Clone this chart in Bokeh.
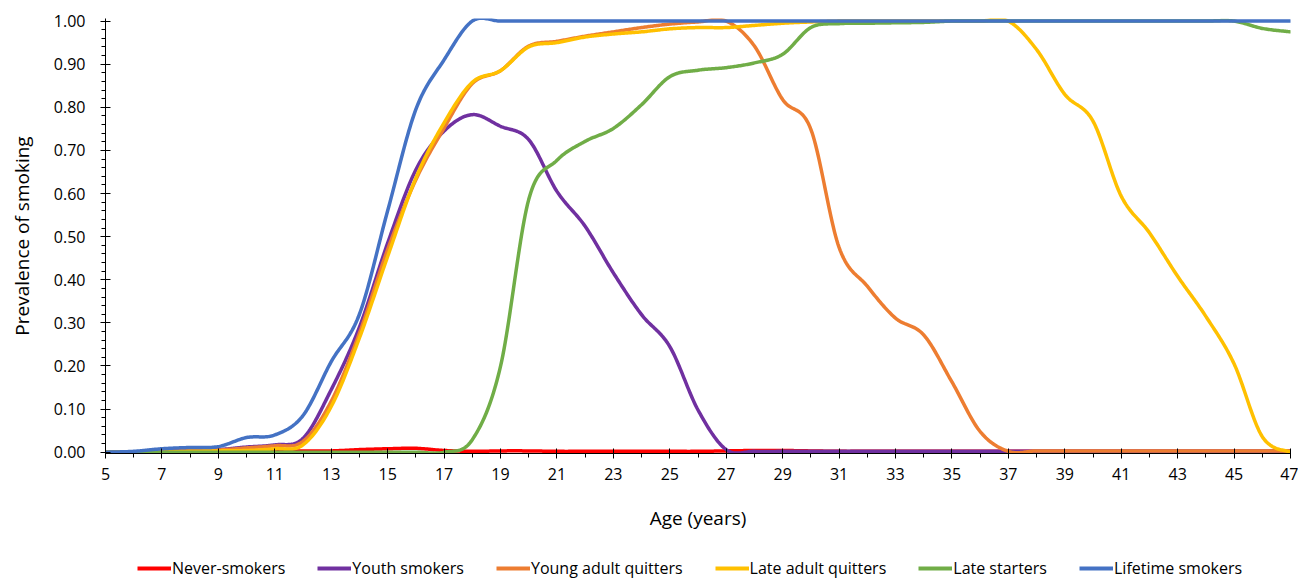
import numpy as np
from bokeh.plotting import figure
from bokeh.layouts import column
from bokeh.models import Range1d, FixedTicker, Legend, LegendItem, NumeralTickFormatter
from bokeh.embed import file_html
from bokeh.resources import INLINE

ages = list(range(5, 48))

# values read per integer age, 5 .. 47
never_smokers = [0.000, 0.000, 0.000, 0.000, 0.000, 0.001, 0.002, 0.003, 0.003, 0.006,
                 0.008, 0.009, 0.004, 0.002, 0.003, 0.003, 0.002, 0.002, 0.002, 0.002,
                 0.002, 0.002, 0.003, 0.004, 0.004, 0.003, 0.002, 0.002, 0.002, 0.002,
                 0.002, 0.002, 0.002, 0.002, 0.002, 0.002, 0.002, 0.002, 0.002, 0.002,
                 0.002, 0.002, 0.002]
youth_smokers = [0.000, 0.000, 0.003, 0.005, 0.006, 0.012, 0.017, 0.032, 0.145, 0.290,
                 0.485, 0.655, 0.745, 0.783, 0.756, 0.725, 0.605, 0.524, 0.416, 0.319,
                 0.245, 0.098, 0.006, 0.002, 0.002, 0.002, 0.002, 0.002, 0.002, 0.002,
                 0.002, 0.002, 0.002, 0.002, 0.002, 0.002, 0.002, 0.002, 0.002, 0.002,
                 0.002, 0.002, 0.002]
young_adult_quitters = [0.000, 0.000, 0.002, 0.004, 0.005, 0.010, 0.015, 0.025, 0.118, 0.276,
                        0.470, 0.632, 0.752, 0.855, 0.885, 0.942, 0.953, 0.965, 0.975, 0.985,
                        0.993, 0.998, 1.000, 0.942, 0.818, 0.749, 0.475, 0.385, 0.311, 0.272,
                        0.163, 0.048, 0.002, 0.003, 0.003, 0.003, 0.003, 0.003, 0.003, 0.003,
                        0.003, 0.003, 0.003]
late_adult_quitters = [0.000, 0.000, 0.000, 0.002, 0.003, 0.004, 0.008, 0.017, 0.106, 0.265,
                       0.454, 0.636, 0.764, 0.858, 0.885, 0.940, 0.950, 0.963, 0.970, 0.975,
                       0.982, 0.985, 0.985, 0.990, 0.995, 0.998, 1.000, 1.000, 1.000, 1.000,
                       1.000, 1.000, 1.000, 0.934, 0.830, 0.768, 0.594, 0.509, 0.408, 0.315,
                       0.205, 0.036, 0.000]
late_starters = [0.000, 0.000, 0.000, 0.000, 0.000, 0.000, 0.000, 0.000, 0.000, 0.000,
                 0.000, 0.000, 0.000, 0.029, 0.199, 0.586, 0.677, 0.721, 0.751, 0.806,
                 0.871, 0.886, 0.892, 0.903, 0.923, 0.985, 0.994, 0.995, 0.996, 0.997,
                 1.000, 1.000, 1.000, 1.000, 1.000, 1.000, 1.000, 1.000, 1.000, 1.000,
                 1.000, 0.983, 0.975]
lifetime_smokers = [0.000, 0.002, 0.008, 0.011, 0.013, 0.034, 0.040, 0.085, 0.210, 0.320,
                    0.560, 0.795, 0.910, 1.000, 1.000, 1.000, 1.000, 1.000, 1.000, 1.000,
                    1.000, 1.000, 1.000, 1.000, 1.000, 1.000, 1.000, 1.000, 1.000, 1.000,
                    1.000, 1.000, 1.000, 1.000, 1.000, 1.000, 1.000, 1.000, 1.000, 1.000,
                    1.000, 1.000, 1.000]

series_names = ["Never-smokers", "Youth smokers", "Young adult quitters",
                "Late adult quitters", "Late starters", "Lifetime smokers"]
series_values = [never_smokers, youth_smokers, young_adult_quitters,
                 late_adult_quitters, late_starters, lifetime_smokers]
series_colors = ["#FF0000", "#7030A0", "#ED7D31", "#FFC000", "#70AD47", "#4472C4"]

x_ticks = list(range(5, 48, 2))
x_minor = list(range(6, 47, 2))
y_ticks = [round(0.1 * i, 2) for i in range(11)]
y_minor = [round(0.02 * i, 2) for i in range(51)]


def smooth(xs, ys, steps=24):
    """Excel-style smoothed line: cubic Bezier segments through the data points."""
    xs = np.asarray(xs, float)
    ys = np.asarray(ys, float)
    n = len(xs)
    t = np.linspace(0.0, 1.0, steps, endpoint=False)
    outx, outy = [], []
    for i in range(n - 1):
        i0, i3 = max(i - 1, 0), min(i + 2, n - 1)
        x1, y1, x2, y2 = xs[i], ys[i], xs[i + 1], ys[i + 1]
        c1x = x1 + (x2 - xs[i0]) / 6.0
        c1y = y1 + (y2 - ys[i0]) / 6.0
        c2x = x2 - (xs[i3] - x1) / 6.0
        c2y = y2 - (ys[i3] - y1) / 6.0
        a = (1 - t) ** 3
        b = 3 * (1 - t) ** 2 * t
        c = 3 * (1 - t) * t ** 2
        d = t ** 3
        outx.extend(a * x1 + b * c1x + c * c2x + d * x2)
        outy.extend(a * y1 + b * c1y + c * c2y + d * y2)
    outx.append(xs[-1])
    outy.append(ys[-1])
    return outx, outy


FONT = "Open Sans"
W = 1298
MAIN_H = 539
LEG_H = 579 - MAIN_H

p = figure(width=W, height=MAIN_H,
           x_range=Range1d(5, 47), y_range=Range1d(-0.003, 1.006),
           output_backend="svg", toolbar_location=None,
           min_border_left=105, min_border_right=8,
           min_border_top=18, min_border_bottom=MAIN_H - 18 - 435)

p.xgrid.visible = False
p.ygrid.visible = False
p.outline_line_color = None
p.background_fill_color = "white"
p.border_fill_color = "white"

for name, vals, col in zip(series_names, series_values, series_colors):
    sx, sy = smooth(ages, vals)
    p.line(sx, sy, line_color=col, line_width=3.5, line_join="round", line_cap="round")

# x axis
xa = p.xaxis[0]
xa.ticker = FixedTicker(ticks=x_ticks, minor_ticks=x_minor)
xa.axis_label = "Age (years)"
xa.axis_line_color = "black"
xa.major_tick_line_color = "black"
xa.minor_tick_line_color = "black"
xa.major_tick_in = 5
xa.major_tick_out = 5
xa.minor_tick_in = 0
xa.minor_tick_out = 4
xa.major_label_standoff = 9
xa.major_label_text_font = FONT
xa.major_label_text_font_size = "16px"
xa.major_label_text_color = "black"
xa.axis_label_text_font = FONT
xa.axis_label_text_font_size = "19px"
xa.axis_label_text_font_style = "normal"
xa.axis_label_text_color = "black"
xa.axis_label_standoff = 22

# y axis
ya = p.yaxis[0]
ya.ticker = FixedTicker(ticks=y_ticks, minor_ticks=y_minor)
ya.formatter = NumeralTickFormatter(format="0.00")
ya.axis_label = "Prevalence of smoking"
ya.axis_line_color = "black"
ya.major_tick_line_color = "black"
ya.minor_tick_line_color = "black"
ya.major_tick_in = 5
ya.major_tick_out = 5
ya.minor_tick_in = 0
ya.minor_tick_out = 4
ya.major_label_standoff = 15
ya.major_label_text_font = FONT
ya.major_label_text_font_size = "16px"
ya.major_label_text_color = "black"
ya.axis_label_text_font = FONT
ya.axis_label_text_font_size = "19px"
ya.axis_label_text_font_style = "normal"
ya.axis_label_text_color = "black"
ya.axis_label_standoff = 16

# legend strip below the chart; its lines use the same data but lie outside the strip's view
lg = figure(width=W, height=LEG_H, x_range=Range1d(100, 101), y_range=Range1d(100, 101),
            output_backend="svg", toolbar_location=None,
            x_axis_location=None, y_axis_location=None,
            min_border_left=0, min_border_right=0, min_border_top=0, min_border_bottom=0)
lg.xgrid.visible = False
lg.ygrid.visible = False
lg.outline_line_color = None
lg.background_fill_color = "white"
lg.border_fill_color = "white"

items = []
for name, vals, col in zip(series_names, series_values, series_colors):
    r = lg.line(ages, vals, line_color=col, line_width=4)
    items.append(LegendItem(label=name, renderers=[r]))

legend = Legend(
    items=items,
    orientation="horizontal",
    location=(32, 0),
    glyph_width=34, glyph_height=20,
    label_standoff=1, spacing=32,
    padding=0, margin=0,
    border_line_color=None, background_fill_alpha=0,
    label_text_font=FONT, label_text_font_size="16px", label_text_color="black",
)
lg.add_layout(legend)

layout = column(p, lg, spacing=0)
open("out.html", "w").write(file_html(layout, INLINE))
